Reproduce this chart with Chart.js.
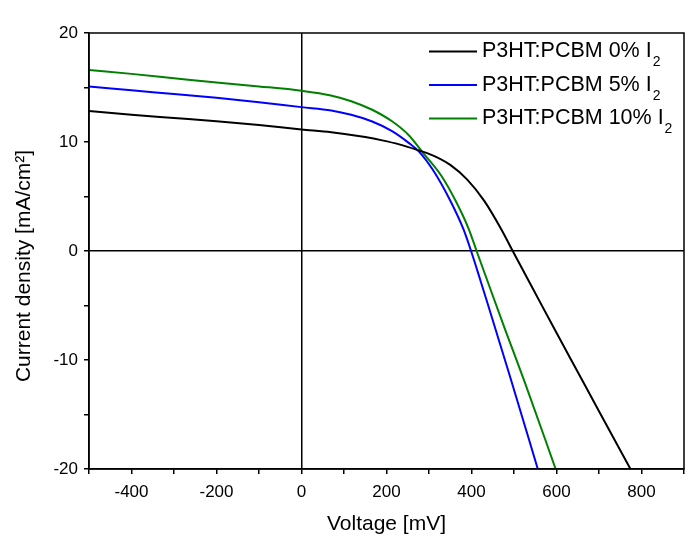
<!DOCTYPE html>
<html>
<head>
<meta charset="utf-8">
<title>J-V curves</title>
<script src="https://cdn.jsdelivr.net/npm/chart.js@4.4.0/dist/chart.umd.min.js"></script>
<style>
    html, body { margin: 0; padding: 0; background: #fff; }
    #wrap { width: 700px; height: 550px; }
</style>
</head>
<body>
<div id="wrap"><canvas id="jv-chart" width="700" height="550"></canvas></div>
<script>
// Series labels and colours
const seriesLabels = ['P3HT:PCBM 0% I₂', 'P3HT:PCBM 5% I₂', 'P3HT:PCBM 10% I₂'];
const seriesColors = ['#000000', '#0000ff', '#008000'];
const xTitle = 'Voltage [mV]';
const yTitle = 'Current density [mA/cm²]';

// 0% I2 (black)
const voltage0 = [-500, -400, -300, -200, -100, 0, 70, 150, 190, 230, 270, 310, 350, 390, 430, 470, 497, 530, 560, 600, 650, 700, 774];
const current0 = [12.85, 12.5, 12.2, 11.9, 11.55, 11.15, 10.9, 10.45, 10.15, 9.78, 9.3, 8.75, 7.9, 6.55, 4.6, 2.0, 0, -2.4, -4.6, -7.5, -11.1, -14.7, -20];

// 5% I2 (blue)
const voltage5 = [-500, -400, -300, -200, -100, 0, 70, 117, 165, 213, 253, 277, 309, 349, 381, 399, 421, 437, 489, 556];
const current5 = [15.1, 14.75, 14.4, 14.05, 13.65, 13.2, 12.9, 12.5, 11.9, 11.0, 9.9, 9.1, 7.45, 4.7, 2.0, 0, -2.7, -4.7, -11.3, -20];

// 10% I2 (green)
const voltage10 = [-500, -400, -300, -200, -100, 0, 69, 117, 165, 213, 253, 285, 329, 365, 394, 412, 438, 480, 525, 598];
const current10 = [16.6, 16.25, 15.85, 15.45, 15.1, 14.7, 14.27, 13.74, 12.98, 11.9, 10.6, 9.05, 6.9, 4.42, 1.97, 0, -2.8, -7.3, -12.0, -20];

// Axis ticks
const xMin = -500, xMax = 900, xStep = 100;
const xLabelled = [-400, -200, 0, 200, 400, 600, 800];
const yMin = -20, yMax = 20, yStep = 5;
const yLabelled = [-20, -10, 0, 10, 20];

const FONT = "'Liberation Sans', Arial, sans-serif";

function toPoints(xs, ys) {
    return xs.map((x, i) => ({ x: x, y: ys[i] }));
}

/**
 * Black frame round the plot area, plus the rotated y title
 */
const framePlugin = {
    id: 'frame',
    afterDatasetsDraw(chart) {
        const { ctx, chartArea: a } = chart;
        ctx.save();
        ctx.strokeStyle = '#000';
        ctx.lineWidth = 1.5;
        ctx.strokeRect(a.left, a.top, a.right - a.left, a.bottom - a.top);

        // y title sits a little below centre, like the original
        ctx.translate(24, (a.top + a.bottom) / 2 + 15);
        ctx.rotate(-Math.PI / 2);
        ctx.fillStyle = '#000';
        ctx.font = '21px ' + FONT;
        ctx.textAlign = 'center';
        ctx.textBaseline = 'middle';
        ctx.fillText(yTitle, 0, 0);
        ctx.restore();
    }
};

/**
 * Legend drawn inside the top right corner, with subscript 2
 */
const insideLegend = {
    id: 'insideLegend',
    afterDraw(chart) {
        const { ctx, chartArea: a } = chart;
        ctx.save();
        chart.data.datasets.forEach((ds, i) => {
            const y = a.top + 18.5 + i * 33.5;
            const x0 = a.right - 255;
            ctx.strokeStyle = ds.borderColor;
            ctx.lineWidth = 2;
            ctx.beginPath();
            ctx.moveTo(x0, y);
            ctx.lineTo(x0 + 48, y);
            ctx.stroke();

            const main = ds.label.replace('₂', '');
            ctx.fillStyle = '#000';
            ctx.font = '21.5px ' + FONT;
            ctx.textBaseline = 'middle';
            ctx.textAlign = 'left';
            ctx.fillText(main, x0 + 53, y);
            const w = ctx.measureText(main).width;
            ctx.font = '14px ' + FONT;
            ctx.fillText('2', x0 + 53 + w + 1, y + 11);
        });
        ctx.restore();
    }
};

const zeroLine = (c) => (c.tick && c.tick.value === 0 ? '#000' : 'rgba(0,0,0,0)');

new Chart(document.getElementById('jv-chart'), {
    type: 'line',
    data: {
        datasets: [
            { label: seriesLabels[0], data: toPoints(voltage0, current0), borderColor: seriesColors[0] },
            { label: seriesLabels[1], data: toPoints(voltage5, current5), borderColor: seriesColors[1] },
            { label: seriesLabels[2], data: toPoints(voltage10, current10), borderColor: seriesColors[2] }
        ].map(ds => Object.assign(ds, {
            borderWidth: 2,
            pointRadius: 0,
            fill: false,
            cubicInterpolationMode: 'monotone'
        }))
    },
    options: {
        responsive: false,
        animation: false,
        layout: { padding: { top: 33, right: 16, left: 0, bottom: 0 } },
        plugins: {
            legend: { display: false },
            tooltip: { enabled: false }
        },
        scales: {
            x: {
                type: 'linear',
                min: xMin,
                max: xMax,
                afterFit: (s) => { s.height = 81; },
                ticks: {
                    stepSize: xStep,
                    autoSkip: false,
                    maxRotation: 0,
                    padding: 8,
                    color: '#000',
                    font: { family: FONT, size: 17 },
                    callback: (v) => (xLabelled.includes(v) ? String(v) : '')
                },
                grid: { color: zeroLine, lineWidth: 1.5, tickColor: '#000', tickLength: 5, tickWidth: 1.5 },
                border: { display: true, color: '#000', width: 1.5 },
                title: {
                    display: true,
                    text: xTitle,
                    color: '#000',
                    font: { family: FONT, size: 21 },
                    padding: { top: 0, bottom: 13 }
                }
            },
            y: {
                type: 'linear',
                min: yMin,
                max: yMax,
                afterFit: (s) => { s.width = 89; },
                ticks: {
                    stepSize: yStep,
                    autoSkip: false,
                    padding: 6,
                    color: '#000',
                    font: { family: FONT, size: 17 },
                    callback: (v) => (yLabelled.includes(v) ? String(v) : '')
                },
                grid: { color: zeroLine, lineWidth: 1.5, tickColor: '#000', tickLength: 5, tickWidth: 1.5 },
                border: { display: true, color: '#000', width: 1.5 }
            }
        }
    },
    plugins: [framePlugin, insideLegend]
});
</script>
</body>
</html>
